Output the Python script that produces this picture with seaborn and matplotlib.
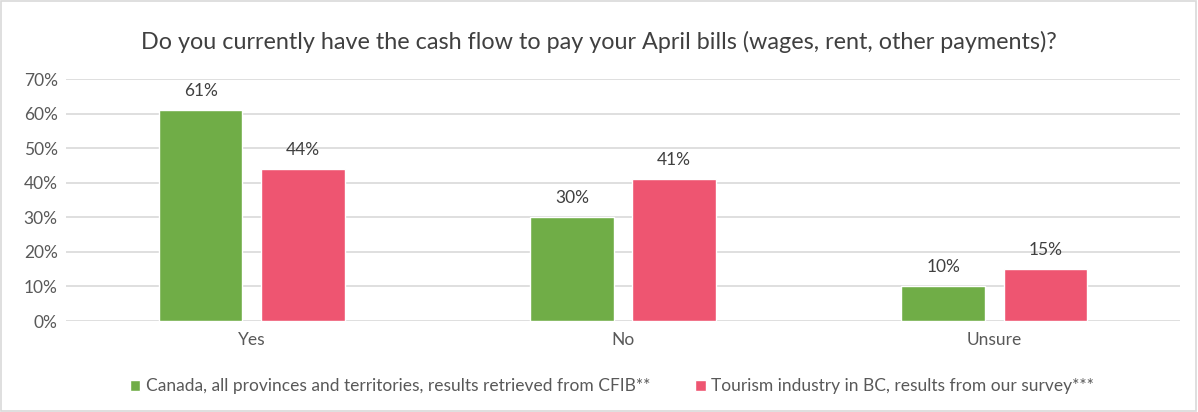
import matplotlib
matplotlib.use('Agg')
import matplotlib.pyplot as plt
import seaborn as sns
import pandas as pd

# data
answers = ['Yes', 'No', 'Unsure']
canada = [61, 30, 10]
bc_tourism = [44, 41, 15]
series = ['Canada, all provinces and territories, results retrieved from CFIB**',
          'Tourism industry in BC, results from our survey***']
colors = ['#70AD47', '#EE5571']

df = pd.DataFrame({
    'answer': answers * 2,
    'pct': canada + bc_tourism,
    'group': [series[0]] * 3 + [series[1]] * 3,
})

sns.set_style('white')
plt.rcParams['font.family'] = ['Lato', 'DejaVu Sans']

fig = plt.figure(figsize=(11.98, 4.12), dpi=100)
ax = fig.add_axes([66 / 1198, 1 - 321 / 412, (1180 - 66) / 1198, (321 - 79) / 412])

sns.barplot(data=df, x='answer', y='pct', hue='group', palette=colors,
            width=0.55, gap=0.18, ax=ax, saturation=1, legend=True)

for c in ax.containers:
    ax.bar_label(c, labels=[f'{v:.0f}%' for v in c.datavalues], padding=8,
                 fontsize=12.5, color='#404040')

ax.set_ylim(0, 70)
ax.set_yticks(range(0, 71, 10))
ax.set_yticklabels([f'{t}%' for t in range(0, 71, 10)])
ax.yaxis.grid(True, color='#D9D9D9', linewidth=1.2)
ax.set_axisbelow(True)
for s in ax.spines.values():
    s.set_visible(False)
ax.tick_params(axis='both', length=0, labelsize=12.5, colors='#595959', pad=8)
ax.tick_params(axis='y', pad=6)
ax.set_xlabel('')
ax.set_ylabel('')

ax.legend(loc='center', bbox_to_anchor=(0.49, -0.27), ncol=2, frameon=False,
          fontsize=12.5, handlelength=0.6, handleheight=0.6, handletextpad=0.3,
          columnspacing=2.6, labelcolor='#595959')

fig.text(0.5, 1 - 42 / 412, 'Do you currently have the cash flow to pay your April bills (wages, rent, other payments)?',
         ha='center', va='center', fontsize=16.8, color='#404040')

fig.patches.append(plt.Rectangle((0.001, 0.002), 0.997, 0.996, transform=fig.transFigure,
                                 fill=False, edgecolor='#D9D9D9', linewidth=1.2))

fig.savefig('out.png', dpi=100)
